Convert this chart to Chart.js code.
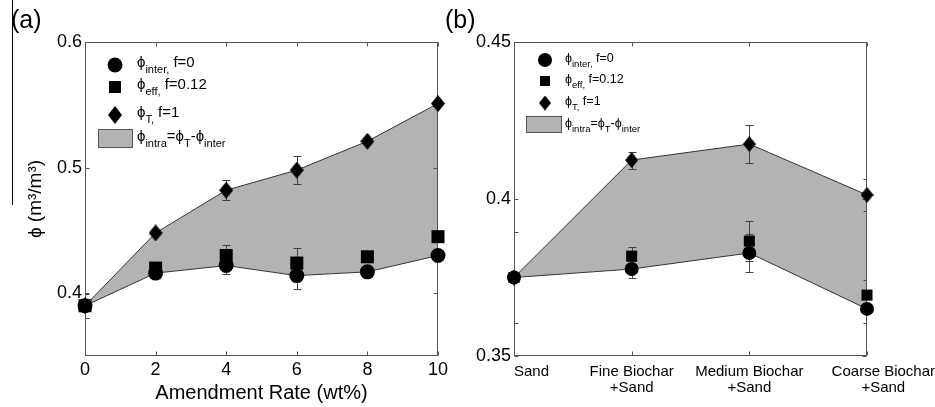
<!DOCTYPE html>
<html>
<head>
<meta charset="utf-8">
<script src="https://cdn.jsdelivr.net/npm/chart.js@4.4.0/dist/chart.umd.min.js"></script>
<style>
  body { margin: 0; background: #fff; }
  #wrap { position: relative; width: 935px; height: 407px; overflow: hidden; }
  canvas { position: absolute; top: 0; }
  #rateChart { left: 0; }
  #mixChart { left: 440px; }
</style>
</head>
<body>
<div id="wrap">
  <canvas id="rateChart" width="465" height="407"></canvas>
  <canvas id="mixChart" width="495" height="407"></canvas>
</div>
<script>
// (a) porosity vs. biochar amendment rate
var rates = [0, 2, 4, 6, 8, 10];
var rateTotal = [0.390, 0.448, 0.482, 0.498, 0.521, 0.551];
var rateTotalErr = [0, 0.002, 0.008, 0.011, 0.002, 0.002];
var rateInter = [0.390, 0.416, 0.422, 0.414, 0.417, 0.430];
var rateInterErr = [0.0095, 0.002, 0.007, 0.011, 0.002, 0.002];
var rateEff = [0.390, 0.420, 0.430, 0.424, 0.429, 0.445];
var rateEffErr = [0, 0.002, 0.008, 0.012, 0.002, 0.002];
var rateTicksY = [0.4, 0.5, 0.6];

// (b) porosity by biochar particle size
var mixes = ['Sand', ['Fine Biochar', '+Sand'], ['Medium Biochar', '+Sand'], ['Coarse Biochar', '+Sand']];
var mixTotal = [0.375, 0.4124, 0.4175, 0.4013];
var mixTotalErr = [0.0145, 0.0027, 0.006, 0.005];
var mixInter = [0.375, 0.3777, 0.3828, 0.365];
var mixInterErr = [0, 0.0027, 0.006, 0.0045];
var mixEff = [0.375, 0.3818, 0.3866, 0.3694];
var mixEffErr = [0, 0.003, 0.0064, 0.0048];
var mixTicksY = [0.35, 0.4, 0.45];

var FONT = '"Liberation Sans", Arial, sans-serif';

function diamond(w, h) {
    var c = document.createElement('canvas');
    c.width = w; c.height = h;
    var g = c.getContext('2d');
    g.fillStyle = '#000';
    g.beginPath();
    g.moveTo(w / 2, 0); g.lineTo(w, h / 2); g.lineTo(w / 2, h); g.lineTo(0, h / 2);
    g.closePath();
    g.fill();
    return c;
}

function xy(xs, ys) {
    return xs.map(function (x, i) { return { x: x, y: ys[i] }; });
}

function yval(p) { return typeof p === 'object' ? p.y : p; }

// phi with subscripts, drawn piece by piece
function richText(ctx, x, y, parts, size, subSize) {
    parts.forEach(function (p) {
        ctx.font = (p[1] ? subSize : size) + 'px ' + FONT;
        ctx.fillText(p[0], x, p[1] ? y + size * 0.4 : y);
        x += ctx.measureText(p[0]).width;
    });
}

var legendText = [
    [['ϕ', 0], ['inter,', 1], [' f=0', 0]],
    [['ϕ', 0], ['eff,', 1], [' f=0.12', 0]],
    [['ϕ', 0], ['T,', 1], [' f=1', 0]],
    [['ϕ', 0], ['intra', 1], ['=ϕ', 0], ['T', 1], ['-ϕ', 0], ['inter', 1]]
];

var decor = {
    id: 'panelDecor',
    beforeDatasetsDraw: function (chart, args, opts) {
        var ctx = chart.ctx, a = chart.chartArea;
        var xs = chart.scales.x, ys = chart.scales.y;
        ctx.save();
        // error bars, clipped to the axes box
        ctx.beginPath();
        ctx.rect(a.left, a.top, a.right - a.left, a.bottom - a.top);
        ctx.clip();
        ctx.strokeStyle = '#444';
        ctx.lineWidth = 1;
        chart.data.datasets.forEach(function (ds, di) {
            var meta = chart.getDatasetMeta(di);
            (ds.errors || []).forEach(function (e, i) {
                if (!e) return;
                var v = yval(ds.data[i]);
                var x = Math.round(meta.data[i].x) + 0.5;
                var y1 = Math.round(ys.getPixelForValue(v + e)) + 0.5;
                var y2 = Math.round(ys.getPixelForValue(v - e)) + 0.5;
                var c = opts.cap;
                ctx.beginPath();
                ctx.moveTo(x, y1); ctx.lineTo(x, y2);
                ctx.moveTo(x - c, y1); ctx.lineTo(x + c, y1);
                ctx.moveTo(x - c, y2); ctx.lineTo(x + c, y2);
                ctx.stroke();
            });
        });
        ctx.restore();

        // axes box with inward ticks
        ctx.save();
        ctx.strokeStyle = '#555';
        ctx.lineWidth = 1;
        var l = Math.round(a.left) + 0.5, r = Math.round(a.right) - 0.5;
        var t = Math.round(a.top) + 0.5, b = Math.round(a.bottom) - 0.5;
        ctx.strokeRect(l, t, r - l, b - t);
        ctx.beginPath();
        xs.ticks.forEach(function (tk, i) {
            var px = Math.round(xs.getPixelForTick(i)) + 0.5;
            ctx.moveTo(px, b); ctx.lineTo(px, b - 4);
            ctx.moveTo(px, t); ctx.lineTo(px, t + 4);
        });
        ys.ticks.forEach(function (tk, i) {
            var py = Math.round(ys.getPixelForTick(i)) + 0.5;
            ctx.moveTo(l, py); ctx.lineTo(l + 4, py);
            ctx.moveTo(r, py); ctx.lineTo(r - 4, py);
        });
        ctx.stroke();
        ctx.restore();
    },
    afterDraw: function (chart, args, opts) {
        var ctx = chart.ctx, a = chart.chartArea, L = opts.legend;
        ctx.save();
        ctx.fillStyle = '#000';

        // panel letter
        ctx.font = '25px ' + FONT;
        ctx.textAlign = 'left';
        ctx.textBaseline = 'middle';
        ctx.fillText(opts.letter, opts.letterX, 21);

        if (opts.rule) {
            ctx.strokeStyle = '#000';
            ctx.beginPath();
            ctx.moveTo(12.5, 0); ctx.lineTo(12.5, 205);
            ctx.stroke();
        }

        // legend
        ctx.textBaseline = 'alphabetic';
        ctx.fillStyle = '#000';
        ctx.beginPath();
        ctx.arc(L.mx, L.rows[0], L.circleR, 0, Math.PI * 2);
        ctx.fill();
        ctx.fillRect(L.mx - L.sq / 2, L.rows[1] - L.sq / 2, L.sq, L.sq);
        ctx.drawImage(L.diamond, L.mx - L.diamond.width / 2, L.rows[2] - L.diamond.height / 2);
        ctx.fillStyle = '#b3b3b3';
        ctx.fillRect(L.rect[0], L.rect[1], L.rect[2], L.rect[3]);
        ctx.strokeStyle = '#555';
        ctx.strokeRect(L.rect[0] + 0.5, L.rect[1] + 0.5, L.rect[2] - 1, L.rect[3] - 1);
        ctx.fillStyle = '#000';
        var rowY = L.rows.concat([L.rect[1] + L.rect[3] / 2]);
        legendText.forEach(function (parts, i) {
            richText(ctx, L.tx, rowY[i] + L.lift, parts, L.font, L.sub);
        });

        // category labels: first flush with the axis, last flush with the canvas edge
        if (opts.catLabels) {
            var xs = chart.scales.x;
            var labels = xs.getLabels();
            ctx.font = '15px ' + FONT;
            ctx.textBaseline = 'middle';
            ctx.textAlign = 'center';
            labels.forEach(function (lab, i) {
                var lines = Array.isArray(lab) ? lab : [lab];
                var px = xs.getPixelForTick(i);
                var w = Math.max.apply(null, lines.map(function (s) { return ctx.measureText(s).width; }));
                var cx = px;
                if (i === 0) {
                    cx = px + w / 2;
                } else if (i === labels.length - 1) {
                    cx = chart.width - w / 2;
                }
                lines.forEach(function (s, k) {
                    ctx.fillText(s, cx, a.bottom + 16 + k * 16);
                });
            });
        }
        ctx.restore();
    }
};

function lineSet(data, errs, style, radius, extra) {
    var ds = {
        data: data,
        errors: errs,
        borderColor: '#333',
        borderWidth: 1,
        pointStyle: style,
        pointRadius: radius,
        pointBackgroundColor: '#000',
        pointBorderWidth: 0,
        fill: false,
        clip: false,
        tension: 0
    };
    for (var k in extra) ds[k] = extra[k];
    return ds;
}

function yAxis(min, max, ticks, width, title) {
    return {
        type: 'linear',
        min: min,
        max: max,
        afterBuildTicks: function (s) { s.ticks = ticks.map(function (v) { return { value: v }; }); },
        afterFit: function (s) { s.width = width; },
        grid: { display: false, drawTicks: false },
        border: { display: false },
        ticks: {
            color: '#000',
            padding: 3,
            font: { family: FONT, size: 18 },
            callback: function (v) { return String(+v.toFixed(2)); }
        },
        title: title
    };
}

new Chart(document.getElementById('rateChart').getContext('2d'), {
    type: 'line',
    data: {
        datasets: [
            lineSet(xy(rates, rateTotal), rateTotalErr, diamond(14, 17), 8, { fill: 1, backgroundColor: '#b3b3b3' }),
            lineSet(xy(rates, rateInter), rateInterErr, 'circle', 7.5),
            lineSet(xy(rates, rateEff), rateEffErr, 'rect', 9.2, { showLine: false })
        ]
    },
    options: {
        responsive: false,
        animation: false,
        events: [],
        layout: { padding: { left: 0, right: 27, top: 42, bottom: 0 } },
        plugins: {
            legend: { display: false },
            tooltip: { enabled: false },
            filler: { drawTime: 'beforeDatasetsDraw' },
            panelDecor: {
                letter: '(a)', letterX: 11, rule: true, cap: 4,
                legend: {
                    mx: 115, rows: [65, 87, 115], rect: [98, 129, 35, 19], tx: 137, lift: 2,
                    font: 15, sub: 11, circleR: 7.5, sq: 12, diamond: diamond(14, 18)
                }
            }
        },
        scales: {
            x: {
                type: 'linear',
                min: 0,
                max: 10,
                afterFit: function (s) { s.height = 51; },
                grid: { display: false, drawTicks: false },
                border: { display: false },
                ticks: { stepSize: 2, color: '#000', padding: 3, font: { family: FONT, size: 18 } },
                title: {
                    display: true, text: 'Amendment Rate (wt%)', color: '#000',
                    font: { family: FONT, size: 20 }, padding: { top: 0, bottom: 2 }
                }
            },
            y: yAxis(0.35, 0.6, rateTicksY, 85, {
                display: true, text: 'ϕ (m³/m³)', color: '#000',
                font: { family: FONT, size: 19 }, padding: { top: 24, bottom: 0 }
            })
        }
    },
    plugins: [decor]
});

new Chart(document.getElementById('mixChart').getContext('2d'), {
    type: 'line',
    data: {
        labels: mixes,
        datasets: [
            lineSet(mixTotal, mixTotalErr, diamond(13, 16), 8, { fill: 1, backgroundColor: '#b3b3b3' }),
            lineSet(mixInter, mixInterErr, 'circle', 7),
            lineSet(mixEff, mixEffErr, 'rect', 7.8, { showLine: false })
        ]
    },
    options: {
        responsive: false,
        animation: false,
        events: [],
        layout: { padding: { left: 0, right: 68, top: 42, bottom: 0 } },
        plugins: {
            legend: { display: false },
            tooltip: { enabled: false },
            filler: { drawTime: 'beforeDatasetsDraw' },
            panelDecor: {
                letter: '(b)', letterX: 5, rule: false, cap: 4, catLabels: true,
                legend: {
                    mx: 105, rows: [60, 81, 103], rect: [86, 116, 36, 17], tx: 125, lift: 2,
                    font: 12.5, sub: 9.5, circleR: 7, sq: 10, diamond: diamond(12, 15)
                }
            }
        },
        scales: {
            x: {
                type: 'category',
                offset: false,
                afterFit: function (s) { s.height = 51; },
                grid: { display: false, drawTicks: false },
                border: { display: false },
                ticks: { display: false }
            },
            y: yAxis(0.35, 0.45, mixTicksY, 74, { display: false })
        }
    },
    plugins: [decor]
});
</script>
</body>
</html>
